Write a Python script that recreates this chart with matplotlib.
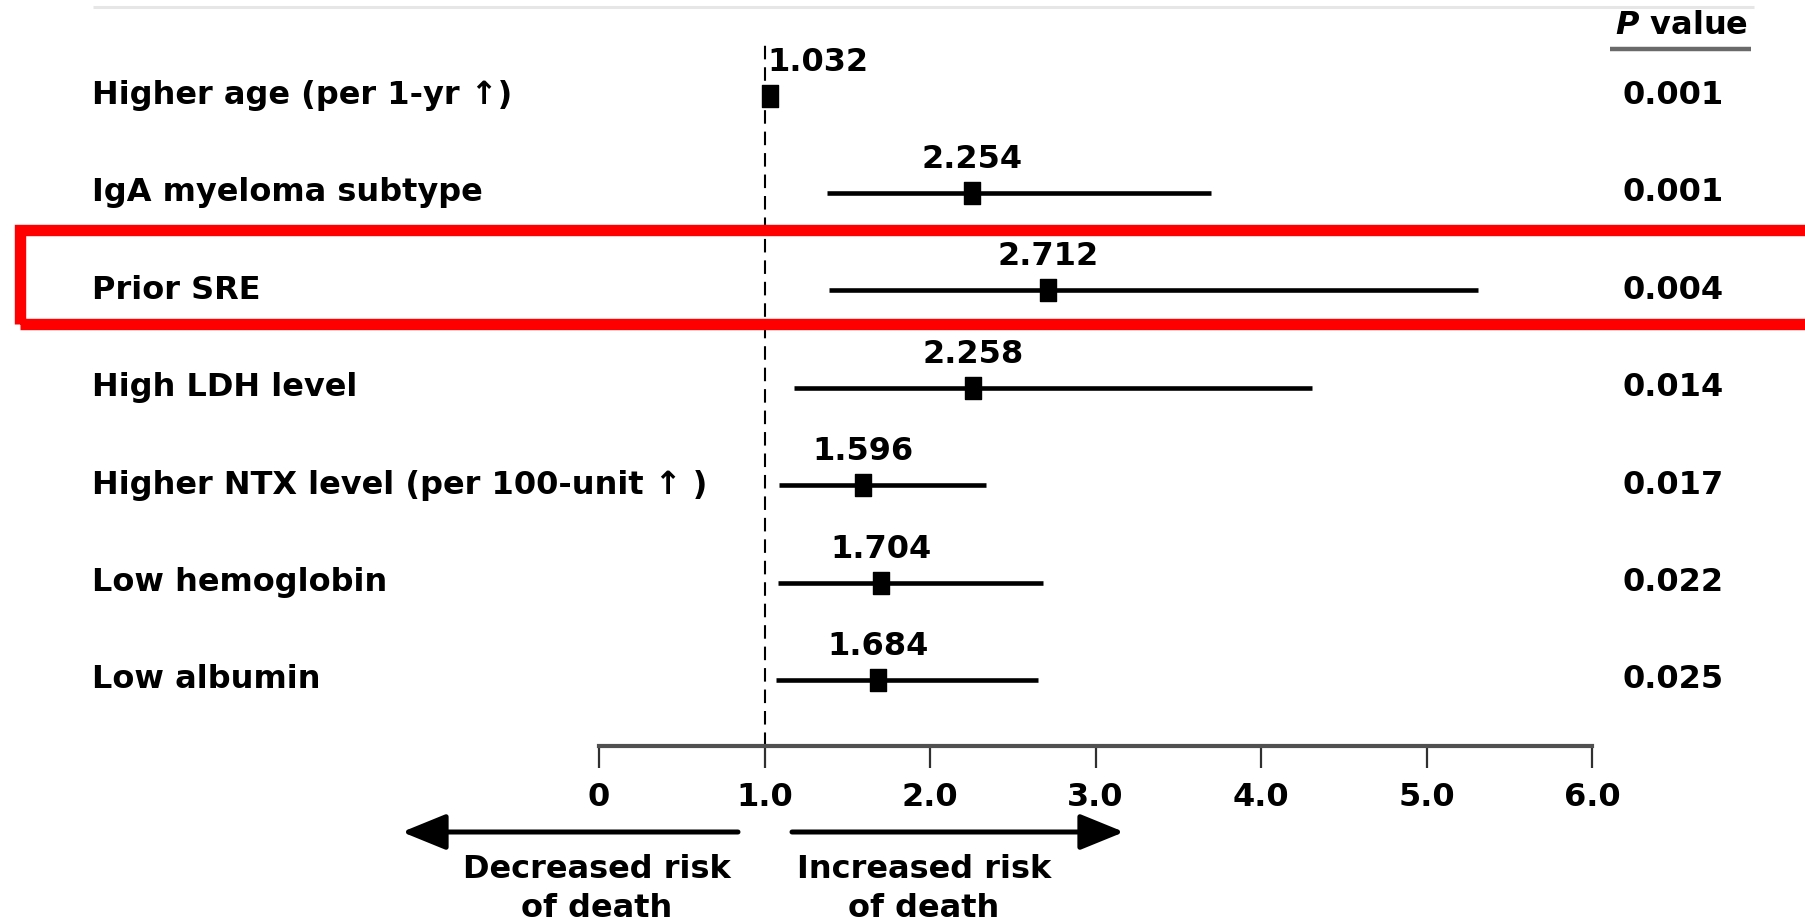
import matplotlib
matplotlib.use("Agg")
import matplotlib.pyplot as plt
from matplotlib.patches import Rectangle, FancyArrowPatch, ArrowStyle
from matplotlib.path import Path
from matplotlib.lines import Line2D

# ---------------- data ----------------
categories = [
    "Higher age (per 1-yr \u2191)",
    "IgA myeloma subtype",
    "Prior SRE",
    "High LDH level",
    "Higher NTX level (per 100-unit \u2191 )",
    "Low hemoglobin",
    "Low albumin",
]
hazard_ratio = [1.032, 2.254, 2.712, 2.258, 1.596, 1.704, 1.684]
ci_low = [1.025, 1.38, 1.39, 1.18, 1.09, 1.08, 1.07]
ci_high = [1.040, 3.70, 5.31, 4.31, 2.34, 2.68, 2.65]
p_values = ["0.001", "0.001", "0.004", "0.014", "0.017", "0.022", "0.025"]
highlight_row = "Prior SRE"
x_ticks = [0, 1, 2, 3, 4, 5, 6]
x_tick_labels = ["0", "1.0", "2.0", "3.0", "4.0", "5.0", "6.0"]
reference_line = 1.0
left_arrow_label = "Decreased risk\nof death"
right_arrow_label = "Increased risk\nof death"
p_header = "$\\bfit{P}$ value"

# ---------------- style ----------------
W, H, DPI = 1806, 924, 100
FONT = ["DejaVu Sans"]
FS = 23
plt.rcParams["font.family"] = FONT
plt.rcParams["font.weight"] = "bold"
plt.rcParams["mathtext.fontset"] = "custom"
plt.rcParams["mathtext.bfit"] = "DejaVu Sans:italic:bold"


def fx(px):
    return px / W


def fy(py):
    return 1 - py / H


fig = plt.figure(figsize=(W / DPI, H / DPI), dpi=DPI)
fig.patch.set_facecolor("white")

ax_left, ax_right = 599, 1592
ax_top, ax_bottom = 41, 746
ax = fig.add_axes([fx(ax_left), fy(ax_bottom), (ax_right - ax_left) / W,
                   (ax_bottom - ax_top) / H])
ax.set_facecolor("none")

n = len(categories)
row0, row_step = 95.5, 97.4
ax.set_xlim(x_ticks[0], x_ticks[-1])
ax.set_ylim((ax_bottom - row0) / row_step, (ax_top - row0) / row_step)

for s in ["top", "left", "right"]:
    ax.spines[s].set_visible(False)
ax.spines["bottom"].set_linewidth(3.0)
ax.spines["bottom"].set_color("#505050")
ax.set_yticks([])
ax.set_xticks(x_ticks)
ax.set_xticklabels(x_tick_labels, fontsize=FS, fontweight="bold")
ax.tick_params(axis="x", direction="out", length=16, width=1.6,
               color="#303030", pad=10)

# reference dashed line
ax.axvline(reference_line, color="black", lw=1.5, ls=(0, (6.5, 3.8)), zorder=1)

# rectangle marker (slightly taller than wide)
rect_marker = Path([(-0.38, -0.5), (0.38, -0.5), (0.38, 0.5), (-0.38, 0.5), (-0.38, -0.5)],
                   [Path.MOVETO, Path.LINETO, Path.LINETO, Path.LINETO, Path.CLOSEPOLY])

for i in range(n):
    ax.plot([ci_low[i], ci_high[i]], [i, i], color="black", lw=3.3,
            solid_capstyle="butt", zorder=3)
    ax.plot([hazard_ratio[i]], [i], marker=rect_marker, markersize=15.5,
            color="black", zorder=4, linestyle="none")
    narrow = (ci_high[i] - ci_low[i]) < 0.1
    ax.annotate(f"{hazard_ratio[i]:.3f}", (hazard_ratio[i], i),
                xytext=(-2 if narrow else 0, 24), textcoords="offset points",
                ha="left" if narrow else "center", va="center",
                fontsize=FS, fontweight="bold", zorder=5)
    py = row0 + i * row_step
    # category label
    fig.text(fx(92), fy(py), categories[i], fontsize=FS,
             fontweight="bold", ha="left", va="center")
    # p value
    fig.text(fx(1673), fy(py), p_values[i], fontsize=FS,
             fontweight="bold", ha="center", va="center")

# header
fig.text(fx(1681), fy(25), p_header, fontsize=FS, fontweight="bold",
         ha="center", va="center")
fig.add_artist(Line2D([fx(1610), fx(1751)], [fy(49), fy(49)], color="#6a6a6a",
                      lw=3.2, solid_capstyle="butt"))
# top light rule
fig.add_artist(Line2D([fx(93), fx(1754)], [fy(7), fy(7)], color="#e6e6e6",
                      lw=2.2, solid_capstyle="butt"))

# highlight rectangle around the highlighted row
hi = categories.index(highlight_row)
hy = row0 + hi * row_step
fig.add_artist(Rectangle((fx(20), fy(hy + 34)), fx(1830) - fx(20),
                         fy(hy - 60.5) - fy(hy + 34), transform=fig.transFigure,
                         fill=False, edgecolor="#ff0000", lw=8.2, zorder=10,
                         clip_on=False))

# direction arrows
astyle = ArrowStyle("-|>", head_length=27, head_width=11)
fig.add_artist(FancyArrowPatch((fx(738), fy(832)), (fx(402), fy(832)),
                               transform=fig.transFigure, arrowstyle=astyle,
                               mutation_scale=1, lw=3.6, color="black",
                               shrinkA=0, shrinkB=0))
fig.add_artist(FancyArrowPatch((fx(792), fy(832)), (fx(1124), fy(832)),
                               transform=fig.transFigure, arrowstyle=astyle,
                               mutation_scale=1, lw=3.6, color="black",
                               shrinkA=0, shrinkB=0))
fig.text(fx(597), fy(889), left_arrow_label, fontsize=FS, fontweight="bold",
         ha="center", va="center", linespacing=1.33)
fig.text(fx(924), fy(889), right_arrow_label, fontsize=FS, fontweight="bold",
         ha="center", va="center", linespacing=1.33)

fig.savefig("out.png", dpi=DPI, facecolor="white")
